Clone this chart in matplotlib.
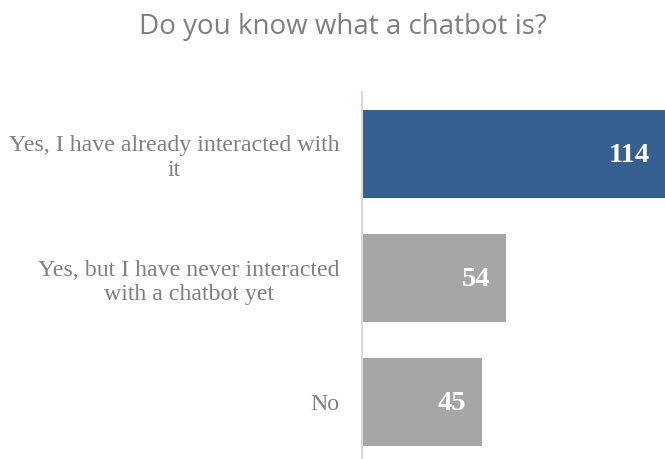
import matplotlib

matplotlib.use("Agg")
import matplotlib.pyplot as plt  # noqa: E402

categories = ["Yes, I have already interacted with\nit",
              "Yes, but I have never interacted\nwith a chatbot yet",
              "No"]
counts = [114, 54, 45]
colors = ["#366092", "#a6a6a6", "#a6a6a6"]
title = "Do you know what a chatbot is?"

W, H = 665, 459
fig = plt.figure(figsize=(W / 100, H / 100), dpi=100)
ax = fig.add_axes([362 / W, 1 - 464 / H, 304 / W, 372 / H])

y = list(range(len(categories)))
bars = ax.barh(y, counts, height=0.71, color=colors)
ax.set_ylim(2.5, -0.5)
ax.set_xlim(0, max(counts))

for b, v in zip(bars, counts):
    ax.annotate(str(v), (b.get_width(), b.get_y() + b.get_height() / 2),
                xytext=(-16, -2), textcoords="offset pixels", ha="right", va="center",
                color="white", fontweight="bold", fontsize=20.5, family="Liberation Serif")

ax.set_yticks(y)
ax.set_yticklabels(categories, fontsize=17.2, family="Liberation Serif", color="#7f7f7f",
                   multialignment="center", linespacing=1.2)
ax.tick_params(axis="y", length=0, pad=16)
ax.set_xticks([])
for s in ["top", "right", "bottom"]:
    ax.spines[s].set_visible(False)
ax.spines["left"].set_color("#d9d9d9")
ax.spines["left"].set_linewidth(1.5)

fig.text(343 / W, 1 - 34 / H, title, ha="center", va="baseline", fontsize=20,
         family="Open Sans", color="#7f7f7f")

fig.savefig("out.png", dpi=100)
